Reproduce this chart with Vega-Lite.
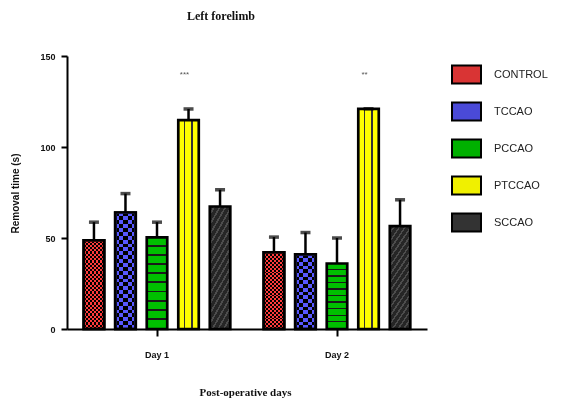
{
  "$schema": "https://vega.github.io/schema/vega-lite/v6.json",
  "autosize": "none",
  "padding": {"left": 67, "top": 56, "right": 151, "bottom": 72},
  "width": 360,
  "height": 273,
  "background": "white",
  "title": {
    "text": "Left forelimb",
    "font": "Liberation Serif",
    "fontSize": 12,
    "fontWeight": "bold",
    "color": "#111",
    "anchor": "middle",
    "dx": -26,
    "offset": 29
  },
  "data": {
    "values": [
      {"day": "Day 1", "group": "CONTROL", "mean": 48.7, "upper": 58.7, "sig": ""},
      {"day": "Day 1", "group": "TCCAO", "mean": 64.0, "upper": 74.4, "sig": ""},
      {"day": "Day 1", "group": "PCCAO", "mean": 50.3, "upper": 58.7, "sig": ""},
      {"day": "Day 1", "group": "PTCCAO", "mean": 114.8, "upper": 120.9, "sig": "***"},
      {"day": "Day 1", "group": "SCCAO", "mean": 67.3, "upper": 76.5, "sig": ""},
      {"day": "Day 2", "group": "CONTROL", "mean": 42.1, "upper": 50.5, "sig": ""},
      {"day": "Day 2", "group": "TCCAO", "mean": 41.0, "upper": 53.0, "sig": ""},
      {"day": "Day 2", "group": "PCCAO", "mean": 36.0, "upper": 50.0, "sig": ""},
      {"day": "Day 2", "group": "PTCCAO", "mean": 121.0, "upper": 121.0, "sig": "**"},
      {"day": "Day 2", "group": "SCCAO", "mean": 56.5, "upper": 71.0, "sig": ""}
    ]
  },
  "encoding": {
    "x": {
      "field": "day",
      "type": "nominal",
      "scale": {"paddingInner": 0, "paddingOuter": 0},
      "axis": {
        "title": "Post-operative days",
        "titleFont": "Liberation Serif",
        "titleFontSize": 11,
        "titleFontWeight": "bold",
        "titleColor": "#111",
        "titleX": 178,
        "titleY": 63,
        "titleBaseline": "middle",
        "labelAngle": 0,
        "labelFont": "Liberation Sans",
        "labelFontSize": 9,
        "labelFontWeight": "bold",
        "labelColor": "#111",
        "labelPadding": 14,
        "domainColor": "black",
        "domainWidth": 2,
        "tickColor": "black",
        "tickWidth": 2,
        "tickSize": 7
      }
    },
    "xOffset": {
      "field": "group",
      "type": "nominal",
      "sort": ["CONTROL", "TCCAO", "PCCAO", "PTCCAO", "SCCAO"],
      "scale": {"paddingInner": 0.35, "paddingOuter": 0.53}
    }
  },
  "layer": [
    {
      "mark": {"type": "bar", "stroke": "black", "strokeWidth": 2.7},
      "encoding": {
        "y": {
          "field": "mean",
          "type": "quantitative",
          "scale": {"domain": [0, 150], "nice": false},
          "axis": {
            "title": "Removal time (s)",
            "titleFont": "Liberation Sans",
            "titleFontSize": 10,
            "titleFontWeight": "bold",
            "titleColor": "#111",
            "titleX": -52,
            "titleY": 137,
            "titleAngle": -90,
            "titleAlign": "center",
            "titleBaseline": "middle",
            "values": [0, 50, 100, 150],
            "grid": false,
            "labelFont": "Liberation Sans",
            "labelFontSize": 9,
            "labelFontWeight": "bold",
            "labelColor": "#111",
            "labelPadding": 6,
            "domainColor": "black",
            "domainWidth": 2,
            "tickColor": "black",
            "tickWidth": 2,
            "tickSize": 6
          }
        },
        "fill": {
          "condition": [
            {"test": "datum.group === 'CONTROL'", "value": {"gradient": "linear", "x1": 0, "y1": 0, "x2": 1, "y2": 0, "stops": [
              {"offset": 0, "color": "#ffffff"}, {"offset": 0.1, "color": "#ffffff"}, {"offset": 0.1, "color": "#000000"}, {"offset": 0.2, "color": "#000000"},
              {"offset": 0.2, "color": "#ffffff"}, {"offset": 0.3, "color": "#ffffff"}, {"offset": 0.3, "color": "#000000"}, {"offset": 0.4, "color": "#000000"},
              {"offset": 0.4, "color": "#ffffff"}, {"offset": 0.5, "color": "#ffffff"}, {"offset": 0.5, "color": "#000000"}, {"offset": 0.6, "color": "#000000"},
              {"offset": 0.6, "color": "#ffffff"}, {"offset": 0.7, "color": "#ffffff"}, {"offset": 0.7, "color": "#000000"}, {"offset": 0.8, "color": "#000000"},
              {"offset": 0.8, "color": "#ffffff"}, {"offset": 0.9, "color": "#ffffff"}, {"offset": 0.9, "color": "#000000"}, {"offset": 1, "color": "#000000"}
            ]}},
            {"test": "datum.group === 'TCCAO'", "value": {"gradient": "linear", "x1": 0, "y1": 0, "x2": 1, "y2": 0, "stops": [
              {"offset": 0, "color": "#ffffff"}, {"offset": 0.2, "color": "#ffffff"}, {"offset": 0.2, "color": "#000000"}, {"offset": 0.4, "color": "#000000"},
              {"offset": 0.4, "color": "#ffffff"}, {"offset": 0.6, "color": "#ffffff"}, {"offset": 0.6, "color": "#000000"}, {"offset": 0.8, "color": "#000000"},
              {"offset": 0.8, "color": "#ffffff"}, {"offset": 1, "color": "#ffffff"}
            ]}},
            {"test": "datum.group === 'PCCAO'", "value": {"gradient": "linear", "x1": 0, "y1": 0, "x2": 0, "y2": 1, "stops": [
                {"offset": 0, "color": "#00c000"}, {"offset": 0.08, "color": "#00c000"}, {"offset": 0.08, "color": "#1a1a1a"}, {"offset": 0.1, "color": "#1a1a1a"},
                {"offset": 0.1, "color": "#00c000"}, {"offset": 0.18, "color": "#00c000"}, {"offset": 0.18, "color": "#1a1a1a"}, {"offset": 0.2, "color": "#1a1a1a"},
                {"offset": 0.2, "color": "#00c000"}, {"offset": 0.28, "color": "#00c000"}, {"offset": 0.28, "color": "#1a1a1a"}, {"offset": 0.3, "color": "#1a1a1a"},
                {"offset": 0.3, "color": "#00c000"}, {"offset": 0.38, "color": "#00c000"}, {"offset": 0.38, "color": "#1a1a1a"}, {"offset": 0.4, "color": "#1a1a1a"},
                {"offset": 0.4, "color": "#00c000"}, {"offset": 0.48, "color": "#00c000"}, {"offset": 0.48, "color": "#1a1a1a"}, {"offset": 0.5, "color": "#1a1a1a"},
                {"offset": 0.5, "color": "#00c000"}, {"offset": 0.58, "color": "#00c000"}, {"offset": 0.58, "color": "#1a1a1a"}, {"offset": 0.6, "color": "#1a1a1a"},
                {"offset": 0.6, "color": "#00c000"}, {"offset": 0.68, "color": "#00c000"}, {"offset": 0.68, "color": "#1a1a1a"}, {"offset": 0.7, "color": "#1a1a1a"},
                {"offset": 0.7, "color": "#00c000"}, {"offset": 0.78, "color": "#00c000"}, {"offset": 0.78, "color": "#1a1a1a"}, {"offset": 0.8, "color": "#1a1a1a"},
                {"offset": 0.8, "color": "#00c000"}, {"offset": 0.88, "color": "#00c000"}, {"offset": 0.88, "color": "#1a1a1a"}, {"offset": 0.9, "color": "#1a1a1a"},
                {"offset": 0.9, "color": "#00c000"}, {"offset": 1, "color": "#00c000"}
              ]}},
            {"test": "datum.group === 'PTCCAO'", "value": {"gradient": "linear", "x1": 0, "y1": 0, "x2": 1, "y2": 0, "stops": [
                {"offset": 0, "color": "#ffff00"}, {"offset": 0.28, "color": "#ffff00"}, {"offset": 0.28, "color": "#333333"}, {"offset": 0.35, "color": "#333333"},
                {"offset": 0.35, "color": "#ffff00"}, {"offset": 0.63, "color": "#ffff00"}, {"offset": 0.63, "color": "#333333"}, {"offset": 0.7, "color": "#333333"},
                {"offset": 0.7, "color": "#ffff00"}, {"offset": 1, "color": "#ffff00"}
              ]}},
            {"test": "datum.group === 'SCCAO'", "value": {"gradient": "linear", "x1": 0, "y1": 0, "x2": 0.35, "y2": 1.19, "stops": [
                {"offset": 0, "color": "#262626"}, {"offset": 0.042, "color": "#262626"}, {"offset": 0.042, "color": "#4d4d4d"}, {"offset": 0.0625, "color": "#4d4d4d"},
                {"offset": 0.0625, "color": "#262626"}, {"offset": 0.1045, "color": "#262626"}, {"offset": 0.1045, "color": "#4d4d4d"}, {"offset": 0.125, "color": "#4d4d4d"},
                {"offset": 0.125, "color": "#262626"}, {"offset": 0.167, "color": "#262626"}, {"offset": 0.167, "color": "#4d4d4d"}, {"offset": 0.1875, "color": "#4d4d4d"},
                {"offset": 0.1875, "color": "#262626"}, {"offset": 0.2295, "color": "#262626"}, {"offset": 0.2295, "color": "#4d4d4d"}, {"offset": 0.25, "color": "#4d4d4d"},
                {"offset": 0.25, "color": "#262626"}, {"offset": 0.292, "color": "#262626"}, {"offset": 0.292, "color": "#4d4d4d"}, {"offset": 0.3125, "color": "#4d4d4d"},
                {"offset": 0.3125, "color": "#262626"}, {"offset": 0.3545, "color": "#262626"}, {"offset": 0.3545, "color": "#4d4d4d"}, {"offset": 0.375, "color": "#4d4d4d"},
                {"offset": 0.375, "color": "#262626"}, {"offset": 0.417, "color": "#262626"}, {"offset": 0.417, "color": "#4d4d4d"}, {"offset": 0.4375, "color": "#4d4d4d"},
                {"offset": 0.4375, "color": "#262626"}, {"offset": 0.4795, "color": "#262626"}, {"offset": 0.4795, "color": "#4d4d4d"}, {"offset": 0.5, "color": "#4d4d4d"},
                {"offset": 0.5, "color": "#262626"}, {"offset": 0.542, "color": "#262626"}, {"offset": 0.542, "color": "#4d4d4d"}, {"offset": 0.5625, "color": "#4d4d4d"},
                {"offset": 0.5625, "color": "#262626"}, {"offset": 0.6045, "color": "#262626"}, {"offset": 0.6045, "color": "#4d4d4d"}, {"offset": 0.625, "color": "#4d4d4d"},
                {"offset": 0.625, "color": "#262626"}, {"offset": 0.667, "color": "#262626"}, {"offset": 0.667, "color": "#4d4d4d"}, {"offset": 0.6875, "color": "#4d4d4d"},
                {"offset": 0.6875, "color": "#262626"}, {"offset": 0.7295, "color": "#262626"}, {"offset": 0.7295, "color": "#4d4d4d"}, {"offset": 0.75, "color": "#4d4d4d"},
                {"offset": 0.75, "color": "#262626"}, {"offset": 0.792, "color": "#262626"}, {"offset": 0.792, "color": "#4d4d4d"}, {"offset": 0.8125, "color": "#4d4d4d"},
                {"offset": 0.8125, "color": "#262626"}, {"offset": 0.8545, "color": "#262626"}, {"offset": 0.8545, "color": "#4d4d4d"}, {"offset": 0.875, "color": "#4d4d4d"},
                {"offset": 0.875, "color": "#262626"}, {"offset": 0.917, "color": "#262626"}, {"offset": 0.917, "color": "#4d4d4d"}, {"offset": 0.9375, "color": "#4d4d4d"},
                {"offset": 0.9375, "color": "#262626"}, {"offset": 0.9795, "color": "#262626"}, {"offset": 0.9795, "color": "#4d4d4d"}, {"offset": 1, "color": "#4d4d4d"}
              ]}}
          ],
          "field": "group",
          "type": "nominal",
          "sort": ["CONTROL", "TCCAO", "PCCAO", "PTCCAO", "SCCAO"],
          "scale": {
            "domain": ["CONTROL", "TCCAO", "PCCAO", "PTCCAO", "SCCAO"],
            "range": ["#d93434", "#4a4ad8", "#00b000", "#f0f000", "#333333"]
          },
          "legend": {
            "title": null,
            "orient": "none",
            "legendX": 384,
            "legendY": 3,
            "symbolType": "M-1,-0.62H1V0.62H-1Z",
            "symbolSize": 841,
            "symbolStrokeColor": "black",
            "symbolStrokeWidth": 2,
            "symbolOpacity": 1,
            "rowPadding": 8,
            "labelOffset": 12,
            "labelFont": "Liberation Sans",
            "labelFontSize": 11,
            "labelColor": "#222"
          }
        }
      }
    },
    {
      "transform": [{"filter": "datum.group === 'CONTROL' || datum.group === 'TCCAO'"}],
      "mark": {"type": "bar", "strokeWidth": 0, "blend": "difference"},
      "encoding": {
        "y": {"field": "mean", "type": "quantitative"},
        "fill": {
          "condition": [
            {"test": "datum.group === 'CONTROL'", "value": {"gradient": "linear", "x1": 0, "y1": 0, "x2": 0, "y2": 1, "stops": [
              {"offset": 0, "color": "#ffffff"}, {"offset": 0.025, "color": "#ffffff"}, {"offset": 0.025, "color": "#000000"}, {"offset": 0.05, "color": "#000000"},
              {"offset": 0.05, "color": "#ffffff"}, {"offset": 0.075, "color": "#ffffff"}, {"offset": 0.075, "color": "#000000"}, {"offset": 0.1, "color": "#000000"},
              {"offset": 0.1, "color": "#ffffff"}, {"offset": 0.125, "color": "#ffffff"}, {"offset": 0.125, "color": "#000000"}, {"offset": 0.15, "color": "#000000"},
              {"offset": 0.15, "color": "#ffffff"}, {"offset": 0.175, "color": "#ffffff"}, {"offset": 0.175, "color": "#000000"}, {"offset": 0.2, "color": "#000000"},
              {"offset": 0.2, "color": "#ffffff"}, {"offset": 0.225, "color": "#ffffff"}, {"offset": 0.225, "color": "#000000"}, {"offset": 0.25, "color": "#000000"},
              {"offset": 0.25, "color": "#ffffff"}, {"offset": 0.275, "color": "#ffffff"}, {"offset": 0.275, "color": "#000000"}, {"offset": 0.3, "color": "#000000"},
              {"offset": 0.3, "color": "#ffffff"}, {"offset": 0.325, "color": "#ffffff"}, {"offset": 0.325, "color": "#000000"}, {"offset": 0.35, "color": "#000000"},
              {"offset": 0.35, "color": "#ffffff"}, {"offset": 0.375, "color": "#ffffff"}, {"offset": 0.375, "color": "#000000"}, {"offset": 0.4, "color": "#000000"},
              {"offset": 0.4, "color": "#ffffff"}, {"offset": 0.425, "color": "#ffffff"}, {"offset": 0.425, "color": "#000000"}, {"offset": 0.45, "color": "#000000"},
              {"offset": 0.45, "color": "#ffffff"}, {"offset": 0.475, "color": "#ffffff"}, {"offset": 0.475, "color": "#000000"}, {"offset": 0.5, "color": "#000000"},
              {"offset": 0.5, "color": "#ffffff"}, {"offset": 0.525, "color": "#ffffff"}, {"offset": 0.525, "color": "#000000"}, {"offset": 0.55, "color": "#000000"},
              {"offset": 0.55, "color": "#ffffff"}, {"offset": 0.575, "color": "#ffffff"}, {"offset": 0.575, "color": "#000000"}, {"offset": 0.6, "color": "#000000"},
              {"offset": 0.6, "color": "#ffffff"}, {"offset": 0.625, "color": "#ffffff"}, {"offset": 0.625, "color": "#000000"}, {"offset": 0.65, "color": "#000000"},
              {"offset": 0.65, "color": "#ffffff"}, {"offset": 0.675, "color": "#ffffff"}, {"offset": 0.675, "color": "#000000"}, {"offset": 0.7, "color": "#000000"},
              {"offset": 0.7, "color": "#ffffff"}, {"offset": 0.725, "color": "#ffffff"}, {"offset": 0.725, "color": "#000000"}, {"offset": 0.75, "color": "#000000"},
              {"offset": 0.75, "color": "#ffffff"}, {"offset": 0.775, "color": "#ffffff"}, {"offset": 0.775, "color": "#000000"}, {"offset": 0.8, "color": "#000000"},
              {"offset": 0.8, "color": "#ffffff"}, {"offset": 0.825, "color": "#ffffff"}, {"offset": 0.825, "color": "#000000"}, {"offset": 0.85, "color": "#000000"},
              {"offset": 0.85, "color": "#ffffff"}, {"offset": 0.875, "color": "#ffffff"}, {"offset": 0.875, "color": "#000000"}, {"offset": 0.9, "color": "#000000"},
              {"offset": 0.9, "color": "#ffffff"}, {"offset": 0.925, "color": "#ffffff"}, {"offset": 0.925, "color": "#000000"}, {"offset": 0.95, "color": "#000000"},
              {"offset": 0.95, "color": "#ffffff"}, {"offset": 0.975, "color": "#ffffff"}, {"offset": 0.975, "color": "#000000"}, {"offset": 1, "color": "#000000"}
            ]}},
            {"test": "datum.day === 'Day 1'", "value": {"gradient": "linear", "x1": 0, "y1": 0, "x2": 0, "y2": 1, "stops": [
              {"offset": 0, "color": "#ffffff"}, {"offset": 0.0333, "color": "#ffffff"}, {"offset": 0.0333, "color": "#000000"}, {"offset": 0.0667, "color": "#000000"},
              {"offset": 0.0667, "color": "#ffffff"}, {"offset": 0.1, "color": "#ffffff"}, {"offset": 0.1, "color": "#000000"}, {"offset": 0.1333, "color": "#000000"},
              {"offset": 0.1333, "color": "#ffffff"}, {"offset": 0.1667, "color": "#ffffff"}, {"offset": 0.1667, "color": "#000000"}, {"offset": 0.2, "color": "#000000"},
              {"offset": 0.2, "color": "#ffffff"}, {"offset": 0.2333, "color": "#ffffff"}, {"offset": 0.2333, "color": "#000000"}, {"offset": 0.2667, "color": "#000000"},
              {"offset": 0.2667, "color": "#ffffff"}, {"offset": 0.3, "color": "#ffffff"}, {"offset": 0.3, "color": "#000000"}, {"offset": 0.3333, "color": "#000000"},
              {"offset": 0.3333, "color": "#ffffff"}, {"offset": 0.3667, "color": "#ffffff"}, {"offset": 0.3667, "color": "#000000"}, {"offset": 0.4, "color": "#000000"},
              {"offset": 0.4, "color": "#ffffff"}, {"offset": 0.4333, "color": "#ffffff"}, {"offset": 0.4333, "color": "#000000"}, {"offset": 0.4667, "color": "#000000"},
              {"offset": 0.4667, "color": "#ffffff"}, {"offset": 0.5, "color": "#ffffff"}, {"offset": 0.5, "color": "#000000"}, {"offset": 0.5333, "color": "#000000"},
              {"offset": 0.5333, "color": "#ffffff"}, {"offset": 0.5667, "color": "#ffffff"}, {"offset": 0.5667, "color": "#000000"}, {"offset": 0.6, "color": "#000000"},
              {"offset": 0.6, "color": "#ffffff"}, {"offset": 0.6333, "color": "#ffffff"}, {"offset": 0.6333, "color": "#000000"}, {"offset": 0.6667, "color": "#000000"},
              {"offset": 0.6667, "color": "#ffffff"}, {"offset": 0.7, "color": "#ffffff"}, {"offset": 0.7, "color": "#000000"}, {"offset": 0.7333, "color": "#000000"},
              {"offset": 0.7333, "color": "#ffffff"}, {"offset": 0.7667, "color": "#ffffff"}, {"offset": 0.7667, "color": "#000000"}, {"offset": 0.8, "color": "#000000"},
              {"offset": 0.8, "color": "#ffffff"}, {"offset": 0.8333, "color": "#ffffff"}, {"offset": 0.8333, "color": "#000000"}, {"offset": 0.8667, "color": "#000000"},
              {"offset": 0.8667, "color": "#ffffff"}, {"offset": 0.9, "color": "#ffffff"}, {"offset": 0.9, "color": "#000000"}, {"offset": 0.9333, "color": "#000000"},
              {"offset": 0.9333, "color": "#ffffff"}, {"offset": 0.9667, "color": "#ffffff"}, {"offset": 0.9667, "color": "#000000"}, {"offset": 1, "color": "#000000"}
            ]}}
          ],
          "value": {"gradient": "linear", "x1": 0, "y1": 0, "x2": 0, "y2": 1, "stops": [
            {"offset": 0, "color": "#ffffff"}, {"offset": 0.05, "color": "#ffffff"}, {"offset": 0.05, "color": "#000000"}, {"offset": 0.1, "color": "#000000"},
            {"offset": 0.1, "color": "#ffffff"}, {"offset": 0.15, "color": "#ffffff"}, {"offset": 0.15, "color": "#000000"}, {"offset": 0.2, "color": "#000000"},
            {"offset": 0.2, "color": "#ffffff"}, {"offset": 0.25, "color": "#ffffff"}, {"offset": 0.25, "color": "#000000"}, {"offset": 0.3, "color": "#000000"},
            {"offset": 0.3, "color": "#ffffff"}, {"offset": 0.35, "color": "#ffffff"}, {"offset": 0.35, "color": "#000000"}, {"offset": 0.4, "color": "#000000"},
            {"offset": 0.4, "color": "#ffffff"}, {"offset": 0.45, "color": "#ffffff"}, {"offset": 0.45, "color": "#000000"}, {"offset": 0.5, "color": "#000000"},
            {"offset": 0.5, "color": "#ffffff"}, {"offset": 0.55, "color": "#ffffff"}, {"offset": 0.55, "color": "#000000"}, {"offset": 0.6, "color": "#000000"},
            {"offset": 0.6, "color": "#ffffff"}, {"offset": 0.65, "color": "#ffffff"}, {"offset": 0.65, "color": "#000000"}, {"offset": 0.7, "color": "#000000"},
            {"offset": 0.7, "color": "#ffffff"}, {"offset": 0.75, "color": "#ffffff"}, {"offset": 0.75, "color": "#000000"}, {"offset": 0.8, "color": "#000000"},
            {"offset": 0.8, "color": "#ffffff"}, {"offset": 0.85, "color": "#ffffff"}, {"offset": 0.85, "color": "#000000"}, {"offset": 0.9, "color": "#000000"},
            {"offset": 0.9, "color": "#ffffff"}, {"offset": 0.95, "color": "#ffffff"}, {"offset": 0.95, "color": "#000000"}, {"offset": 1, "color": "#000000"}
          ]}
        }
      }
    },
    {
      "transform": [{"filter": "datum.group === 'CONTROL' || datum.group === 'TCCAO'"}],
      "mark": {"type": "bar", "stroke": "black", "strokeWidth": 2.7, "blend": "multiply"},
      "encoding": {
        "y": {"field": "mean", "type": "quantitative"},
        "fill": {
          "condition": {"test": "datum.group === 'CONTROL'", "value": "#ff3b3b"},
          "value": "#5858ff"
        }
      }
    },
    {
      "mark": {"type": "rule", "color": "black", "strokeWidth": 2.5},
      "encoding": {
        "y": {"field": "mean", "type": "quantitative"},
        "y2": {"field": "upper"}
      }
    },
    {
      "mark": {"type": "tick", "color": "black", "size": 10, "thickness": 3.5, "orient": "horizontal"},
      "encoding": {
        "y": {"field": "upper", "type": "quantitative"}
      }
    },
    {
      "mark": {"type": "text", "fontSize": 8, "font": "Liberation Sans", "color": "#555", "baseline": "middle", "dx": -4},
      "encoding": {
        "y": {"datum": 139.5, "type": "quantitative"},
        "text": {"field": "sig"}
      }
    }
  ],
  "config": {
    "view": {"stroke": null},
    "axis": {"grid": false}
  }
}
